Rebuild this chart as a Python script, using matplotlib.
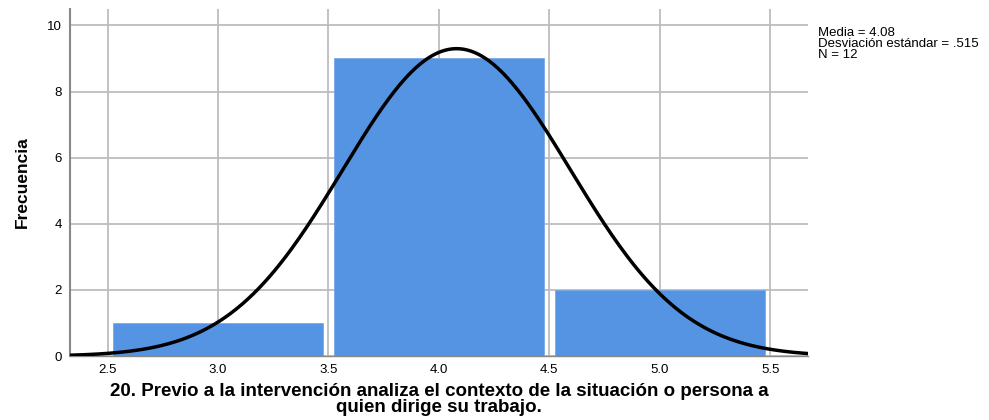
import numpy as np
import matplotlib
matplotlib.use('Agg')
import matplotlib.pyplot as plt

# datos del histograma
centros = [3.0, 4.0, 5.0]
frecuencias = [1, 9, 2]
media = 4.08
desv = 0.515
n = 12
xticks = [2.5, 3.0, 3.5, 4.0, 4.5, 5.0, 5.5]
yticks = [0, 2, 4, 6, 8, 10]

plt.rcParams['font.family'] = ['Liberation Sans', 'DejaVu Sans']

fig = plt.figure(figsize=(9.89, 4.2), dpi=100)
ax = fig.add_axes([0.0708, 0.152, 0.746, 0.827])

ax.bar(centros, frecuencias, width=0.95, color='#5593e3', edgecolor='#7aa9e6', linewidth=0.6, zorder=2)

# curva normal
xs = np.linspace(2.33, 5.67, 400)
ys = n * 1.0 / (desv * np.sqrt(2 * np.pi)) * np.exp(-0.5 * ((xs - media) / desv) ** 2)
ax.plot(xs, ys, color='black', linewidth=2.5, zorder=3)

ax.set_xlim(2.33, 5.67)
ax.set_ylim(0, 10.5)
ax.set_xticks(xticks)
ax.set_xticklabels(['%.1f' % t for t in xticks])
ax.set_yticks(yticks)
ax.grid(True, color='#bdbdbd', linewidth=1.3, zorder=0)
ax.set_axisbelow(True)
for s in ['top', 'right']:
    ax.spines[s].set_visible(False)
ax.spines['left'].set_color('#888888')
ax.spines['left'].set_linewidth(1.5)
ax.spines['bottom'].set_color('#888888')
ax.spines['bottom'].set_linewidth(1.0)
ax.tick_params(length=0, labelsize=9.5, pad=6)

ax.set_ylabel('Frecuencia', fontsize=12.5, fontweight='bold', family=['Liberation Sans Narrow', 'Liberation Sans'], labelpad=12)
ax.set_xlabel('20. Previo a la intervención analiza el contexto de la situación o persona a\nquien dirige su trabajo.',
              fontsize=13.5, fontweight='bold', linespacing=0.92, labelpad=5)

fig.text(0.827, 0.935, 'Media = 4.08\nDesviación estándar = .515\nN = 12', fontsize=9.5, va='top', ha='left', linespacing=0.85)

fig.savefig('out.png', dpi=100)
